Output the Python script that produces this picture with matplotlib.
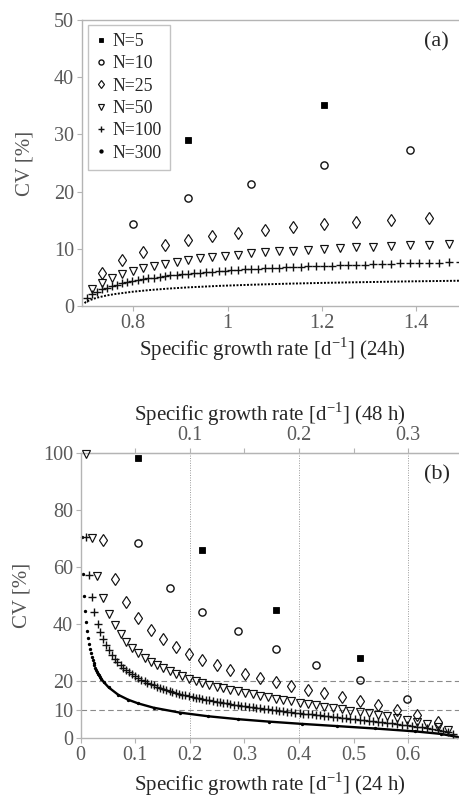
import numpy as np
import matplotlib.pyplot as plt

# ---- panel (a): 24 h, growth rates above ln2 ----
a_x5 = [0.916, 1.204]
a_y5 = [29.0, 35.1]
a_x10 = [0.799, 0.916, 1.050, 1.204, 1.386]
a_y10 = [14.3, 18.8, 21.3, 24.6, 27.3]
a_x25 = [0.734, 0.777, 0.821, 0.868, 0.916, 0.968, 1.022, 1.079, 1.139, 1.204, 1.273, 1.347, 1.427]
a_y25 = [5.85, 7.98, 9.46, 10.58, 11.47, 12.21, 12.83, 13.37, 13.84, 14.26, 14.64, 15.00, 15.33]
a_x50 = [0.713, 0.734, 0.755, 0.777, 0.799, 0.821, 0.844, 0.868, 0.892, 0.916,
         0.942, 0.968, 0.994, 1.022, 1.050, 1.079, 1.109, 1.139, 1.171, 1.204,
         1.238, 1.273, 1.309, 1.347, 1.386, 1.427, 1.470]
a_y50 = [2.95, 4.09, 4.92, 5.59, 6.14, 6.62, 7.03, 7.40, 7.73, 8.03,
         8.30, 8.55, 8.77, 8.98, 9.18, 9.36, 9.53, 9.69, 9.84, 9.98,
         10.12, 10.25, 10.37, 10.50, 10.61, 10.73, 10.85]
a_x100 = [0.703, 0.713, 0.724, 0.734, 0.744, 0.755, 0.766, 0.777, 0.787, 0.798,
          0.810, 0.821, 0.832, 0.844, 0.856, 0.867, 0.879, 0.892, 0.904, 0.916,
          0.929, 0.942, 0.955, 0.968, 0.981, 0.994, 1.008, 1.022, 1.036, 1.050,
          1.064, 1.079, 1.094, 1.109, 1.124, 1.139, 1.155, 1.171, 1.187, 1.204,
          1.221, 1.238, 1.255, 1.273, 1.291, 1.309, 1.328, 1.347, 1.366, 1.386,
          1.406, 1.427, 1.448, 1.470, 1.492]
a_y100 = [1.48, 2.07, 2.51, 2.88, 3.19, 3.46, 3.71, 3.93, 4.14, 4.32,
          4.49, 4.66, 4.81, 4.95, 5.08, 5.21, 5.33, 5.44, 5.55, 5.65,
          5.75, 5.84, 5.92, 6.01, 6.09, 6.17, 6.25, 6.32, 6.39, 6.45,
          6.52, 6.58, 6.64, 6.70, 6.76, 6.82, 6.87, 6.92, 6.97, 7.02,
          7.07, 7.12, 7.16, 7.21, 7.25, 7.30, 7.34, 7.38, 7.43, 7.47,
          7.51, 7.55, 7.59, 7.63, 7.67]
a_x300 = [0.697, 0.700, 0.707, 0.717, 0.727, 0.744, 0.762, 0.799, 0.836, 0.875,
          0.916, 0.981, 1.050, 1.124, 1.204, 1.291, 1.386, 1.499]
a_y300 = [0.49, 0.70, 0.98, 1.28, 1.52, 1.84, 2.09, 2.49, 2.79, 3.04,
          3.25, 3.51, 3.71, 3.89, 4.04, 4.17, 4.30, 4.42]

# ---- panel (b): growth rates below ln2 ----
b_x5 = [0.511, 0.357, 0.223, 0.105]
b_y5 = [28.0, 45.0, 66.0, 98.0]
b_x10 = [0.598, 0.511, 0.431, 0.357, 0.288, 0.223, 0.163, 0.105]
b_y10 = [13.8, 20.4, 25.6, 31.2, 37.6, 44.2, 52.5, 68.3]
b_x25 = [0.654, 0.616, 0.580, 0.545, 0.511, 0.478, 0.446, 0.416, 0.386, 0.357,
         0.329, 0.301, 0.274, 0.249, 0.223, 0.199, 0.174, 0.151, 0.128, 0.105,
         0.083, 0.062, 0.041]
b_y25 = [5.76, 8.15, 10.01, 11.60, 13.05, 14.41, 15.72, 17.01, 18.30, 19.62,
         20.99, 22.42, 23.96, 25.61, 27.45, 29.49, 31.84, 34.62, 37.98, 42.17,
         47.78, 55.85, 69.27]
b_x50 = [0.673, 0.654, 0.635, 0.616, 0.598, 0.580, 0.562, 0.545, 0.528, 0.511,
         0.494, 0.478, 0.462, 0.446, 0.431, 0.416, 0.401, 0.386, 0.371, 0.357,
         0.343, 0.329, 0.315, 0.301, 0.288, 0.274, 0.261, 0.249, 0.236, 0.223,
         0.211, 0.199, 0.186, 0.174, 0.163, 0.151, 0.139, 0.128, 0.117, 0.105,
         0.094, 0.083, 0.073, 0.062, 0.051, 0.041, 0.030, 0.020, 0.010]
b_y50 = [2.88, 4.08, 4.99, 5.77, 6.45, 7.08, 7.66, 8.21, 8.73, 9.23,
         9.71, 10.19, 10.66, 11.12, 11.57, 12.03, 12.48, 12.94, 13.40, 13.87,
         14.35, 14.84, 15.34, 15.86, 16.39, 16.94, 17.51, 18.11, 18.74, 19.41,
         20.11, 20.85, 21.66, 22.52, 23.46, 24.48, 25.59, 26.85, 28.25, 29.82,
         31.66, 33.78, 36.34, 39.49, 43.52, 48.97, 56.75, 69.98, 99.5]
b_x100 = [0.683, 0.673, 0.664, 0.654, 0.644, 0.635, 0.626, 0.616, 0.607, 0.598,
          0.589, 0.580, 0.571, 0.562, 0.553, 0.545, 0.536, 0.528, 0.519, 0.511,
          0.503, 0.494, 0.486, 0.478, 0.470, 0.462, 0.454, 0.446, 0.439, 0.431,
          0.423, 0.416, 0.408, 0.401, 0.393, 0.386, 0.378, 0.371, 0.364, 0.357,
          0.350, 0.343, 0.336, 0.329, 0.322, 0.315, 0.308, 0.301, 0.294, 0.288,
          0.281, 0.274, 0.268, 0.261, 0.255, 0.249, 0.242, 0.236, 0.229, 0.223,
          0.217, 0.211, 0.205, 0.199, 0.192, 0.186, 0.180, 0.174, 0.168, 0.163,
          0.157, 0.151, 0.145, 0.139, 0.134, 0.128, 0.122, 0.117, 0.111, 0.105,
          0.100, 0.094, 0.089, 0.083, 0.078, 0.073, 0.067, 0.062, 0.057, 0.051,
          0.046, 0.041, 0.036, 0.031, 0.025, 0.020, 0.015, 0.010]
b_y100 = [1.44, 2.04, 2.50, 2.88, 3.22, 3.53, 3.81, 4.08, 4.33, 4.56,
          4.79, 5.00, 5.21, 5.41, 5.61, 5.80, 5.99, 6.17, 6.35, 6.53,
          6.70, 6.87, 7.04, 7.21, 7.37, 7.54, 7.70, 7.86, 8.02, 8.18,
          8.34, 8.50, 8.67, 8.83, 8.99, 9.15, 9.32, 9.48, 9.64, 9.81,
          9.98, 10.15, 10.32, 10.49, 10.67, 10.85, 11.03, 11.21, 11.40, 11.59,
          11.78, 11.98, 12.18, 12.38, 12.59, 12.80, 13.03, 13.25, 13.49, 13.72,
          13.97, 14.22, 14.48, 14.75, 15.02, 15.32, 15.62, 15.92, 16.25, 16.59,
          16.93, 17.31, 17.69, 18.10, 18.54, 18.99, 19.46, 19.97, 20.52, 21.09,
          21.72, 22.39, 23.12, 23.88, 24.74, 25.70, 26.75, 27.92, 29.24, 30.78,
          32.50, 34.63, 37.13, 40.14, 44.17, 49.50, 57.34, 70.35]
b_x300 = [0.0033, 0.0050, 0.0067, 0.0084, 0.0101, 0.0117, 0.0134, 0.0151, 0.0168, 0.0185,
          0.0202, 0.0219, 0.0236, 0.0253, 0.0270, 0.0287, 0.0305, 0.0322, 0.0339, 0.0356,
          0.0374, 0.0426, 0.0513, 0.0690, 0.0870, 0.1054, 0.1335, 0.1823, 0.2336, 0.2877,
          0.3448, 0.4055, 0.4700, 0.5390, 0.6131, 0.6604, 0.6898]
b_y300 = [70.6, 57.6, 49.8, 44.5, 40.6, 37.6, 35.1, 33.1, 31.4, 29.9,
          28.6, 27.4, 26.4, 25.5, 24.7, 23.9, 23.2, 22.6, 22.0, 21.4,
          20.9, 19.6, 17.8, 15.2, 13.5, 12.2, 10.7, 8.96, 7.70, 6.69,
          5.83, 5.03, 4.26, 3.42, 2.40, 1.52, 0.48]

plt.rcParams['font.family'] = ['Liberation Serif', 'DejaVu Serif']
plt.rcParams['mathtext.fontset'] = 'custom'
plt.rcParams['mathtext.rm'] = 'Liberation Serif'

spine_c = '#b4b4b4'
tick_c = '#5a5a5a'
label_c = '#262626'

styles = {
    5: dict(marker='s', ms=5, mfc='k', mec='k', mew=0.6),
    10: dict(marker='o', ms=5.2, mfc='none', mec='#111', mew=1.0),
    25: dict(marker='d', ms=6.5, mfc='none', mec='#111', mew=0.85),
    50: dict(marker='v', ms=5.5, mfc='none', mec='#111', mew=0.85),
    100: dict(marker='+', ms=5.5, mec='#111', mew=1.0),
}


def style_axes(ax):
    ax.spines['right'].set_visible(False)
    for s in ['left', 'bottom', 'top']:
        ax.spines[s].set_color(spine_c)
        ax.spines[s].set_linewidth(1.0)
    ax.tick_params(direction='out', length=3.5, width=0.8, color=spine_c,
                   labelcolor=tick_c, labelsize=14.5, pad=2)
    ax.tick_params(axis='x', top=False)


fig = plt.figure(figsize=(4.6, 7.97), dpi=100)

# ---------------- panel (a) ----------------
axa = fig.add_axes([0.1776, 0.6161, 0.830, 0.3588])
axa.plot(a_x300, a_y300, color='k', lw=1.4, ls=(0, (1, 0.8)), zorder=2)
axa.plot(a_x100, a_y100, ls='none', zorder=3, **styles[100])
axa.plot(a_x50, a_y50, ls='none', zorder=3, **styles[50])
axa.plot(a_x25, a_y25, ls='none', zorder=3, **styles[25])
axa.plot(a_x10, a_y10, ls='none', zorder=3, **styles[10])
axa.plot(a_x5, a_y5, ls='none', zorder=3, **styles[5])

hs = [axa.plot([], [], ls='none', **styles[n])[0] for n in (5, 10, 25, 50, 100)]
hs.append(axa.plot([], [], ls='none', marker='o', ms=3, color='k')[0])
leg = axa.legend(hs, ['N=5', 'N=10', 'N=25', 'N=50', 'N=100', 'N=300'],
                 loc='upper left', bbox_to_anchor=(0.016, 0.983), borderaxespad=0,
                 fontsize=12.8, markerscale=0.7, handlelength=0.6, handletextpad=0.35,
                 labelspacing=0.3, borderpad=0.45, fancybox=False, frameon=True)
leg.get_frame().set_edgecolor(spine_c)
leg.get_frame().set_linewidth(1.0)
for t in leg.get_texts():
    t.set_color(label_c)

axa.set_xlim(0.691, 1.5)
axa.set_ylim(0, 50)
axa.set_xticks([0.8, 1.0, 1.2, 1.4])
axa.set_xticklabels(['0.8', '1', '1.2', '1.4'])
axa.set_yticks([0, 10, 20, 30, 40, 50])
style_axes(axa)
axa.set_xlabel('Specific growth rate [d$^{-1}$] (24h)', fontsize=15, color=label_c, labelpad=2)
axa.set_ylabel('CV [%]', fontsize=15, color='#555555', labelpad=14)
axa.text(0.93, 0.924, '(a)', transform=axa.transAxes, fontsize=16, color=label_c,
         ha='center', va='center')

# ---------------- panel (b) ----------------
axb = fig.add_axes([0.1754, 0.0737, 0.8246, 0.3583])
for gx in [0.2, 0.4, 0.6]:
    axb.axvline(gx, color='#9a9a9a', lw=0.7, ls=(0, (1, 1.5)), zorder=1)
for gy in [10, 20]:
    axb.axhline(gy, color='#8a8a8a', lw=0.8, ls=(0, (5, 3)), zorder=1)

bx300 = np.array(b_x300)
by300 = np.array(b_y300)
dense = bx300 > 0.03
axb.plot(bx300[dense], by300[dense], color='k', lw=1.7, zorder=2)
axb.plot(bx300, by300, ls='none', marker='o', ms=1.4, color='k', zorder=2, clip_on=False)
axb.plot(b_x100, b_y100, ls='none', zorder=3, clip_on=False, **styles[100])
axb.plot(b_x50, b_y50, ls='none', zorder=3, clip_on=False, **styles[50])
axb.plot(b_x25, b_y25, ls='none', zorder=3, clip_on=False, **styles[25])
axb.plot(b_x10, b_y10, ls='none', zorder=3, clip_on=False, **styles[10])
axb.plot(b_x5, b_y5, ls='none', zorder=3, clip_on=False, **styles[5])

axb.set_xlim(0, 0.695)
axb.set_ylim(0, 100)
axb.set_xticks([0, 0.1, 0.2, 0.3, 0.4, 0.5, 0.6])
axb.set_xticklabels(['0', '0.1', '0.2', '0.3', '0.4', '0.5', '0.6'])
axb.set_yticks([0, 10, 20, 40, 60, 80, 100])
style_axes(axb)
axb.set_xlabel('Specific growth rate [d$^{-1}$] (24 h)', fontsize=15, color=label_c, labelpad=4)
axb.set_ylabel('CV [%]', fontsize=15, color='#555555', labelpad=8)
axb.text(0.94, 0.922, '(b)', transform=axb.transAxes, fontsize=16, color=label_c,
         ha='center', va='center')


def to48(x):
    return x / 2


def to24(x):
    return x * 2


sec = axb.secondary_xaxis('top', functions=(to48, to24))
sec.set_xticks([0.05, 0.1, 0.15, 0.2, 0.25, 0.3])
sec.set_xticklabels(['', '0.1', '', '0.2', '', '0.3'])
sec.spines['top'].set_color(spine_c)
sec.tick_params(direction='out', length=3.5, width=0.8, color=spine_c,
                labelcolor=tick_c, labelsize=14.5, pad=2)
sec.set_xlabel('Specific growth rate [d$^{-1}$] (48 h)', fontsize=15, color=label_c, labelpad=4)

fig.savefig('out.png', dpi=100)
